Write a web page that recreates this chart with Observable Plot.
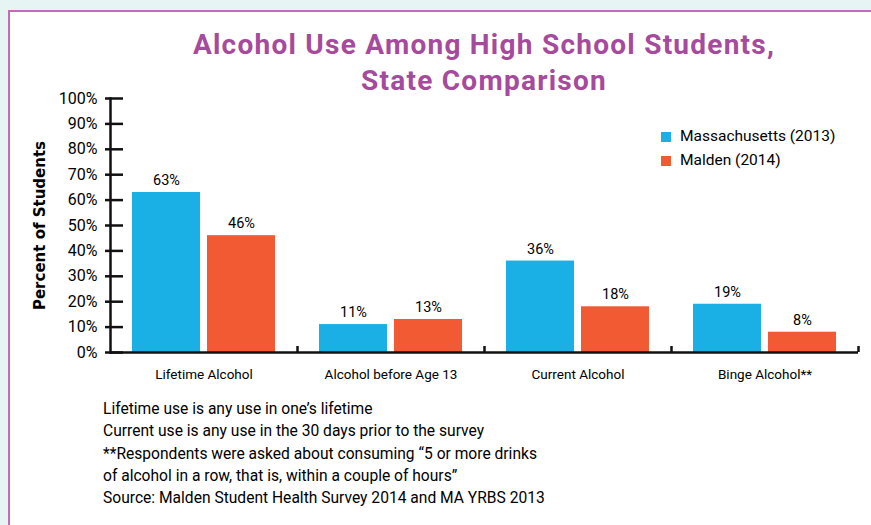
<!DOCTYPE html>
<html>
<head>
<meta charset="utf-8">
<script src="https://cdn.jsdelivr.net/npm/d3@7"></script>
<script src="https://cdn.jsdelivr.net/npm/@observablehq/plot@0.6"></script>
<style>
  html, body { margin: 0; padding: 0; }
  body { width: 871px; height: 525px; background: #e7f4f4; position: relative; overflow: hidden; font-family: Roboto, "Liberation Sans", sans-serif; color: #000; }
  #panel { position: absolute; left: 8px; top: 10px; right: 0; bottom: 0; background: #fff; border-left: 2px solid #c46cba; border-top: 2px solid #c46cba; }
  #title { position: absolute; left: 110px; width: 748px; top: 27px; text-align: center; color: #a64a9d; font-weight: bold; font-size: 28px; letter-spacing: 1.25px; line-height: 36px; }
  #chart { position: absolute; left: 0; top: 0; }
  #legend { position: absolute; left: 661px; top: 125px; }
  #legend, #legend div { font-size: 15.5px !important; font-family: Roboto, sans-serif !important; color: #000; }
  #notes { position: absolute; left: 103px; top: 398px; font-size: 15.6px; line-height: 22.3px; color: #000; }
</style>
</head>
<body>
<div id="panel"></div>
<div id="chart"></div>
<div id="title"></div>
<div id="legend"></div>
<div id="notes"></div>
<script>
const titleLines = ["Alcohol Use Among High School Students,", "State Comparison"];
const categories = ["Lifetime Alcohol", "Alcohol before Age 13", "Current Alcohol", "Binge Alcohol**"];
const series = ["Massachusetts (2013)", "Malden (2014)"];
const massachusetts = [63, 11, 36, 19];
const malden = [46, 13, 18, 8];
const colors = ["#1aafe5", "#f15a32"];
const yTicks = [0, 10, 20, 30, 40, 50, 60, 70, 80, 90, 100];
const yLabel = "Percent of Students";
const notes = [
  "Lifetime use is any use in one\u2019s lifetime",
  "Current use is any use in the 30 days prior to the survey",
  "**Respondents were asked about consuming \u201c5 or more drinks",
  "of alcohol in a row, that is, within a couple of hours\u201d",
  "Source: Malden Student Health Survey 2014 and MA YRBS 2013"
];

const rows = [];
categories.forEach((c, i) => {
  rows.push({category: c, series: series[0], value: massachusetts[i]});
  rows.push({category: c, series: series[1], value: malden[i]});
});
const maRows = rows.filter(d => d.series === series[0]);
const mdRows = rows.filter(d => d.series === series[1]);

const W = 871, H = 400;
const mL = 110, mR = 13, mT = 98, mB = 48;
const band = (W - mL - mR) / categories.length;
const outer = 22, barW = 68;
const farInset = band - outer - barW;
const center = outer + barW / 2 - band / 2;

const chart = Plot.plot({
  width: W, height: H,
  marginLeft: mL, marginRight: mR, marginTop: mT, marginBottom: mB,
  style: {fontFamily: "Roboto, sans-serif", fontSize: "13px", color: "#000", background: "transparent", overflow: "visible"},
  x: {type: "band", domain: categories, padding: 0, axis: null},
  y: {domain: [0, 100], axis: null},
  color: {domain: series, range: colors},
  marks: [
    Plot.barY(maRows, {x: "category", y: "value", fill: "series", insetLeft: outer, insetRight: farInset}),
    Plot.barY(mdRows, {x: "category", y: "value", fill: "series", insetLeft: farInset, insetRight: outer}),
    Plot.text(maRows, {x: "category", y: "value", text: d => d.value + "%", dx: center, dy: -12, fontSize: 14.5, fill: "#000"}),
    Plot.text(mdRows, {x: "category", y: "value", text: d => d.value + "%", dx: -center, dy: -12, fontSize: 14.5, fill: "#000"}),
    Plot.axisY({ticks: yTicks, tickSize: 18, dx: 13, tickFormat: () => "", label: null, strokeWidth: 2.5, stroke: "#111"}),
    Plot.axisY({ticks: yTicks, tickSize: 0, tickPadding: 13, tickFormat: d => d + "%", label: null, fontSize: 16, fill: "#000"}),
    Plot.frame({anchor: "left", strokeWidth: 2.5, stroke: "#111"}),
    Plot.ruleY([0], {strokeWidth: 2.5, stroke: "#111"}),
    Plot.axisX({ticks: categories, tickSize: 6, dy: -6, dx: band / 2, tickFormat: () => "", label: null, strokeWidth: 2.5, stroke: "#111"}),
    Plot.axisX({ticks: categories, tickSize: 0, tickPadding: 17, label: null, fontSize: 13.5, fill: "#000"}),
    Plot.text([yLabel], {frameAnchor: "left", text: d => d, rotate: -90, dx: -70, textAnchor: "middle", fontSize: 15, fontWeight: "bold", fontFamily: "'DejaVu Sans', sans-serif", fill: "#000"})
  ]
});
document.getElementById("chart").appendChild(chart);

const legend = Plot.legend({color: {domain: series, range: colors}, legend: "swatches", columns: 1, swatchSize: 10});
legend.querySelectorAll("svg").forEach(s => {
  s.parentElement.style.lineHeight = "23px";
  s.parentElement.style.height = "23px";
  s.style.marginRight = "9px";
});
document.getElementById("legend").appendChild(legend);

document.getElementById("title").innerHTML = titleLines.map(t => `<div>${t}</div>`).join("");
document.getElementById("notes").innerHTML = notes.map(t => `<div>${t}</div>`).join("");
</script>
</body>
</html>
